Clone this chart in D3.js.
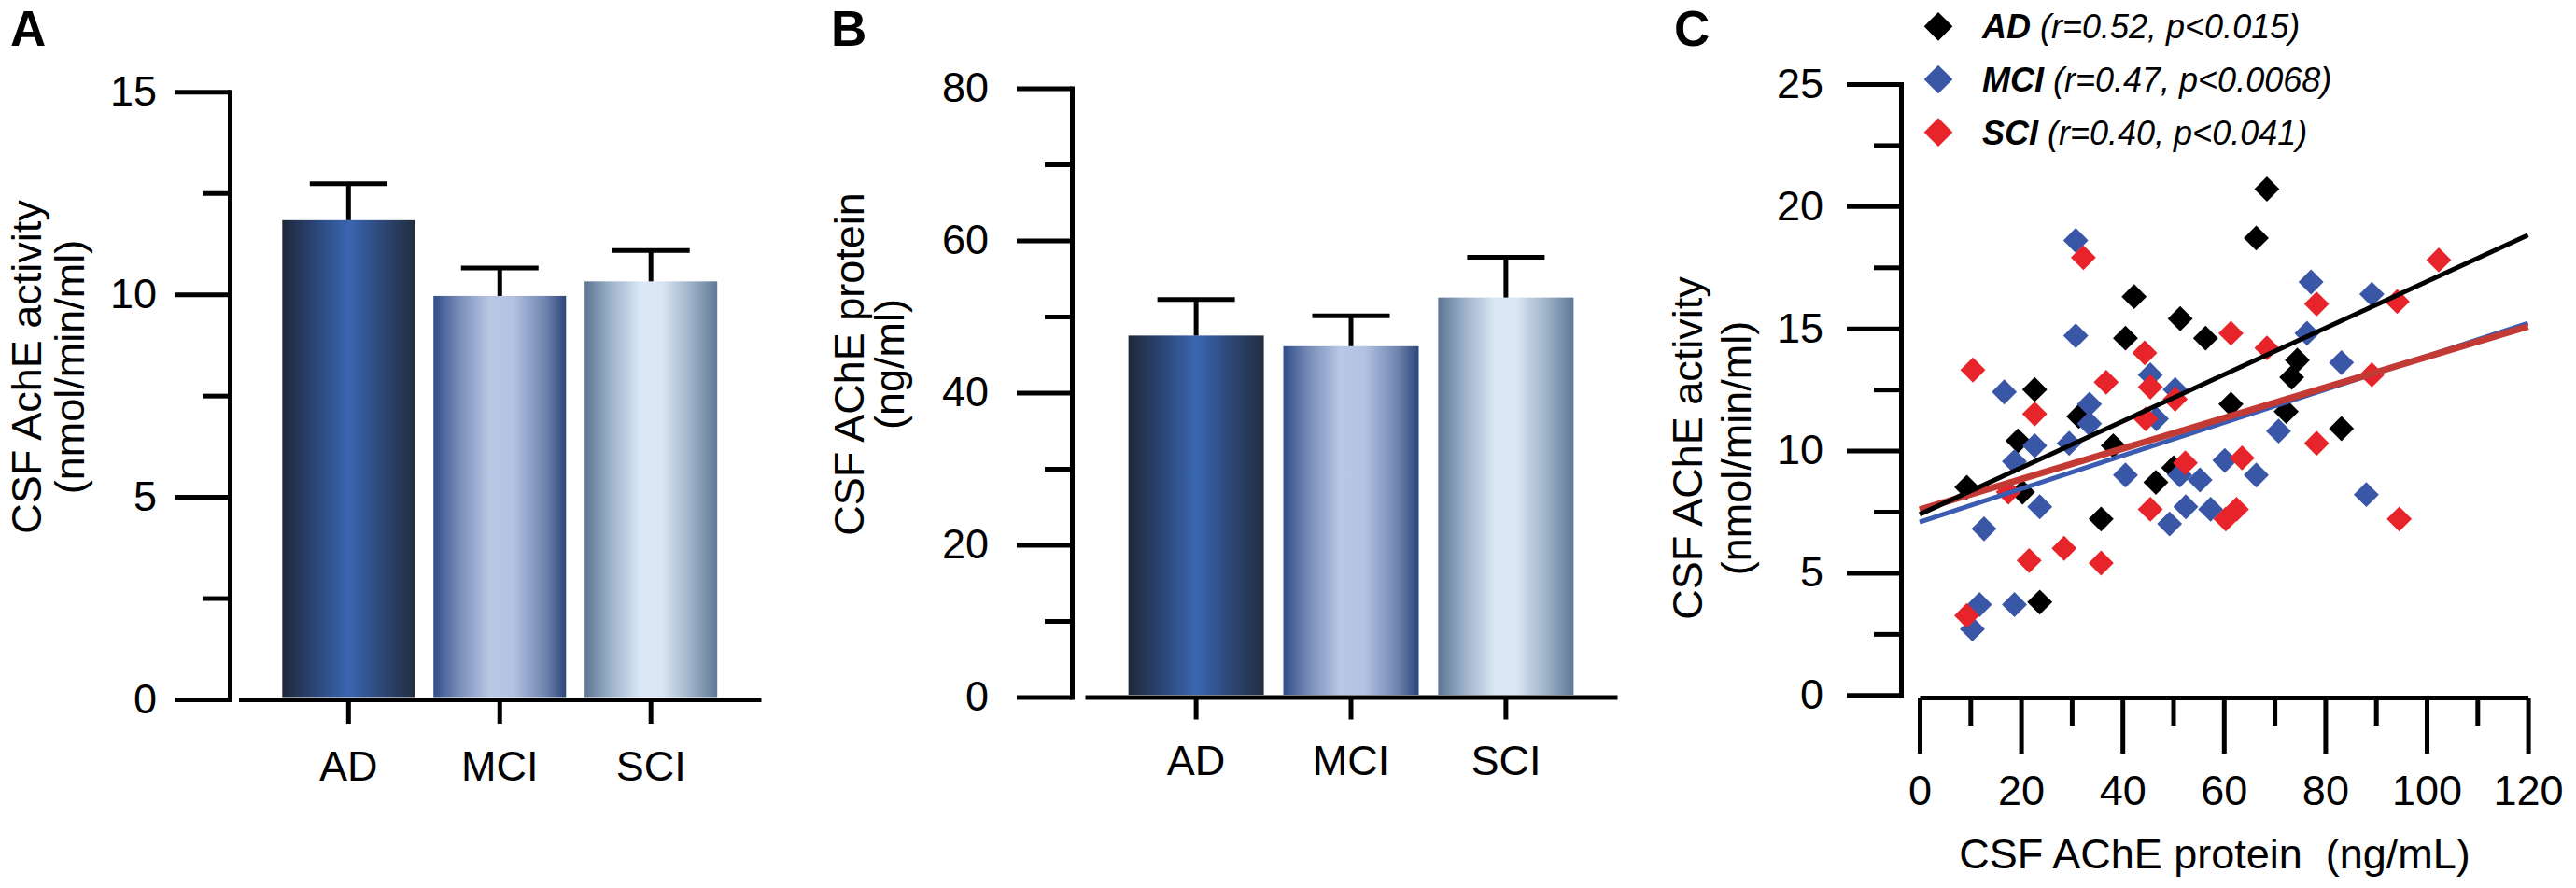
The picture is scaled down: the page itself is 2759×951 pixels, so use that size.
<!DOCTYPE html>
<html><head><meta charset="utf-8">
<script src="https://cdn.jsdelivr.net/npm/d3@7"></script>
<style>
body{margin:0;background:#fff;}
svg{display:block;font-family:"Liberation Sans",Arial,Helvetica,sans-serif;}
</style></head><body>
<svg id="chart" width="2759" height="951"></svg>
<script>
// ---------- data ----------
const categories = ["AD", "MCI", "SCI"];
const activityMean = [11.83, 9.96, 10.32];
const activitySEM = [0.90, 0.69, 0.76];
const proteinMean = [47.5, 46.1, 52.5];
const proteinSEM = [4.74, 4.0, 5.3];

const activityTicks = [0, 5, 10, 15];
const activityMinor = [2.5, 7.5, 12.5];
const proteinTicks = [0, 20, 40, 60, 80];
const proteinMinor = [10, 30, 50, 70];
const corrXTicks = [0, 20, 40, 60, 80, 100, 120];
const corrXMinor = [10, 30, 50, 70, 90, 110];
const corrYTicks = [0, 5, 10, 15, 20, 25];
const corrYMinor = [2.5, 7.5, 12.5, 17.5, 22.5];

const adProtein = [68.5, 66.4, 42.3, 51.4, 56.4, 40.6, 74.5, 73.4, 22.7, 61.4, 72.3, 31.4, 83.2, 19.4, 38.2, 50.1, 46.6, 9.3, 20.3, 35.8, 23.7];
const adActivity = [20.7, 18.7, 16.3, 15.4, 14.6, 14.6, 13.7, 13.0, 12.5, 11.9, 11.6, 11.4, 10.9, 10.4, 10.2, 9.3, 8.7, 8.5, 8.3, 7.2, 3.8];
const mciProtein = [30.8, 30.8, 45.5, 50.4, 16.7, 33.5, 33.5, 46.7, 22.7, 29.5, 18.7, 23.7, 12.7, 40.6, 51.3, 55.3, 52.5, 49.3, 57.4, 60.2, 11.8, 10.4, 18.7, 70.8, 66.4, 88.1, 77.2, 89.2, 76.4, 83.2];
const mciActivity = [18.6, 14.7, 13.1, 12.5, 12.4, 11.9, 11.1, 11.3, 10.2, 10.3, 9.55, 7.7, 6.8, 9.0, 9.0, 8.8, 7.7, 7.0, 7.6, 9.6, 3.7, 2.7, 3.7, 10.8, 9.0, 8.2, 16.9, 16.4, 14.8, 13.6];
const sciProtein = [32.3, 61.4, 44.4, 10.5, 45.5, 50.4, 36.8, 22.7, 44.6, 17.5, 52.4, 45.5, 21.6, 28.5, 35.8, 9.3, 78.3, 63.6, 94.6, 62.5, 60.4, 102.4, 78.3, 94.2, 68.5, 89.2];
const sciActivity = [17.9, 14.8, 14.0, 13.3, 12.6, 12.1, 12.8, 11.5, 11.3, 8.3, 9.5, 7.6, 5.5, 6.0, 5.4, 3.25, 10.3, 9.7, 7.2, 7.6, 7.2, 17.8, 16.0, 16.1, 14.2, 13.1];

const groupNames = ["AD", "MCI", "SCI"];
const groupStats = ["(r=0.52, p<0.015)", "(r=0.47, p<0.0068)", "(r=0.40, p<0.041)"];
const fitProtein = [0, 120];
const fitAD = [7.39, 18.82];
const fitMCI = [7.08, 15.21];
const fitSCI = [7.58, 15.08];

// ---------- styles ----------
const FONT = 45;
const AX = 5;
const pointColors = ["#000000", "#3a56a6", "#e8242b"];
const lineColors = ["#000000", "#3b5cb0", "#c23a33"];
const lineWidths = [5, 5, 7];

const svg = d3.select("#chart");
svg.append("rect").attr("width", 2759).attr("height", 951).attr("fill", "#fff");
const defs = svg.append("defs");

const gradSpecs = {
  gAD: [[0, "#1f2839"], [0.22, "#2a4270"], [0.5, "#3a66b1"], [0.78, "#2c4470"], [1, "#222d40"]],
  gMCI: [[0, "#2f4e88"], [0.18, "#7489b5"], [0.42, "#b8c8e5"], [0.6, "#b2c2e1"], [0.84, "#7085b0"], [1, "#2c4678"]],
  gSCI: [[0, "#5d7594"], [0.18, "#98aec6"], [0.42, "#dbe7f4"], [0.58, "#dae6f3"], [0.82, "#98adc4"], [1, "#5f7897"]]
};
Object.entries(gradSpecs).forEach(([id, stops]) => {
  const g = defs.append("linearGradient").attr("id", id).attr("x1", 0).attr("x2", 1).attr("y1", 0).attr("y2", 0);
  stops.forEach(s => g.append("stop").attr("offset", s[0]).attr("stop-color", s[1]));
});
const gradIds = ["gAD", "gMCI", "gSCI"];

function styleAxis(g, fontSize) {
  g.attr("font-family", null).attr("font-size", null);
  g.selectAll("path.domain").attr("stroke", "#000").attr("stroke-width", AX).attr("stroke-linecap", "square");
  g.selectAll(".tick line").attr("stroke", "#000").attr("stroke-width", AX);
  g.selectAll(".tick text").attr("fill", "#000").attr("font-size", fontSize + "px");
}

function panelLetter(txt, x, y) {
  svg.append("text").attr("x", x).attr("y", y).attr("font-size", "53px").attr("font-weight", "bold").attr("fill", "#000").text(txt);
}

function rotTitle(lines, xs, cy) {
  lines.forEach((t, i) => {
    svg.append("text").attr("transform", `translate(${xs[i]},${cy}) rotate(-90)`)
      .attr("text-anchor", "middle").attr("font-size", FONT + "px").attr("fill", "#000").text(t);
  });
}

function barPanel(c) {
  const y = d3.scaleLinear().domain(c.yDomain).range(c.yRange);
  const x = d3.scaleBand().domain(categories).range(c.xRange).paddingInner(c.pi).paddingOuter(c.po);
  const g = svg.append("g");
  g.selectAll("rect.bar").data(categories).join("rect").attr("class", "bar")
    .attr("x", d => x(d)).attr("width", x.bandwidth())
    .attr("y", (d, i) => y(c.means[i]))
    .attr("height", (d, i) => y(0) - y(c.means[i]) - AX / 2)
    .attr("fill", (d, i) => `url(#${gradIds[i]})`);
  const eb = g.selectAll("g.err").data(categories).join("g").attr("class", "err");
  eb.append("line").attr("x1", d => x(d) + x.bandwidth() / 2).attr("x2", d => x(d) + x.bandwidth() / 2)
    .attr("y1", (d, i) => y(c.means[i])).attr("y2", (d, i) => y(c.means[i] + c.sems[i]))
    .attr("stroke", "#000").attr("stroke-width", AX);
  eb.append("line").attr("x1", d => x(d) + x.bandwidth() / 2 - c.cap / 2).attr("x2", d => x(d) + x.bandwidth() / 2 + c.cap / 2)
    .attr("y1", (d, i) => y(c.means[i] + c.sems[i])).attr("y2", (d, i) => y(c.means[i] + c.sems[i]))
    .attr("stroke", "#000").attr("stroke-width", AX);
  const ya = svg.append("g").attr("transform", `translate(${c.axisX},0)`)
    .call(d3.axisLeft(y).tickValues(c.major).tickSize(59).tickSizeOuter(0).tickPadding(c.gap).tickFormat(d3.format("d")));
  styleAxis(ya, FONT);
  const ym = svg.append("g").attr("transform", `translate(${c.axisX},0)`)
    .call(d3.axisLeft(y).tickValues(c.minor).tickSize(29).tickSizeOuter(0).tickFormat(""));
  ym.select("path.domain").remove();
  styleAxis(ym, FONT);
  const xa = svg.append("g").attr("transform", `translate(0,${y(0)})`)
    .call(d3.axisBottom(x).tickSize(c.xTick).tickSizeOuter(0).tickPadding(c.xPad));
  styleAxis(xa, FONT);
  xa.select("path.domain").attr("stroke-linecap", "butt");
}

// ---------- Panel A ----------
panelLetter("A", 11, 49);
barPanel({
  means: activityMean, sems: activitySEM, yDomain: [0, 15], yRange: [749, 98.3],
  major: activityTicks, minor: activityMinor, axisX: 246, gap: 19,
  xRange: [255.5, 815], pi: 0.123, po: 0.289, cap: 83, xTick: 26, xPad: 29
});
rotTitle(["CSF AchE activity", "(nmol/min/ml)"], [44, 90], 393);

// ---------- Panel B ----------
panelLetter("B", 890, 49);
barPanel({
  means: proteinMean, sems: proteinSEM, yDomain: [0, 80], yRange: [746.5, 94.5],
  major: proteinTicks, minor: proteinMinor, axisX: 1148, gap: 30,
  xRange: [1162, 1732], pi: 0.126, po: 0.281, cap: 83, xTick: 24, xPad: 28
});
rotTitle(["CSF AChE protein", "(ng/ml)"], [925, 968], 390);

// ---------- Panel C ----------
panelLetter("C", 1793, 49);
const cx = d3.scaleLinear().domain([0, 120]).range([2056, 2707.6]);
const cy = d3.scaleLinear().domain([0, 25]).range([744.3, 90]);

const cya = svg.append("g").attr("transform", "translate(2036,0)")
  .call(d3.axisLeft(cy).tickValues(corrYTicks).tickSize(58).tickSizeOuter(0).tickPadding(25).tickFormat(d3.format("d")));
styleAxis(cya, FONT);
const cym = svg.append("g").attr("transform", "translate(2036,0)")
  .call(d3.axisLeft(cy).tickValues(corrYMinor).tickSize(29).tickSizeOuter(0).tickFormat(""));
cym.select("path.domain").remove();
styleAxis(cym, FONT);

const cxa = svg.append("g").attr("transform", "translate(0,747)")
  .call(d3.axisBottom(cx).tickValues(corrXTicks).tickSize(60).tickSizeOuter(0).tickPadding(23).tickFormat(d3.format("d")));
styleAxis(cxa, FONT);
cxa.select("path.domain").attr("stroke-linecap", "butt");
const cxm = svg.append("g").attr("transform", "translate(0,747)")
  .call(d3.axisBottom(cx).tickValues(corrXMinor).tickSize(30).tickSizeOuter(0).tickFormat(""));
cxm.select("path.domain").remove();
styleAxis(cxm, FONT);

svg.append("text").attr("x", 2372).attr("y", 930).attr("text-anchor", "middle")
  .attr("font-size", FONT + "px").attr("fill", "#000")
  .style("white-space", "pre").text("CSF AChE protein  (ng/mL)");
rotTitle(["CSF AChE activity", "(nmol/min/ml)"], [1823, 1875], 480);

// points
const groups = [
  { xs: adProtein, ys: adActivity },
  { xs: mciProtein, ys: mciActivity },
  { xs: sciProtein, ys: sciActivity }
];
const diamond = d3.symbol().type(d3.symbolSquare).size(360);
groups.forEach((grp, gi) => {
  svg.append("g").selectAll("path").data(grp.xs.map((v, i) => [v, grp.ys[i]])).join("path")
    .attr("d", diamond)
    .attr("transform", d => `translate(${cx(d[0])},${cy(d[1])}) rotate(45)`)
    .attr("fill", pointColors[gi]);
});

// regression lines
const fits = [fitAD, fitMCI, fitSCI];
const lineGen = d3.line().x(d => cx(d[0])).y(d => cy(d[1]));
[1, 2, 0].forEach(gi => {
  svg.append("path").attr("d", lineGen(fitProtein.map((p, i) => [p, fits[gi][i]])))
    .attr("fill", "none").attr("stroke", lineColors[gi]).attr("stroke-width", lineWidths[gi]);
});

// legend
const legDiamond = d3.symbol().type(d3.symbolSquare).size(470);
groupNames.forEach((nm, i) => {
  const yy = 28.3 + 56.7 * i;
  svg.append("path").attr("d", legDiamond).attr("transform", `translate(2076,${yy}) rotate(45)`).attr("fill", pointColors[i]);
  const t = svg.append("text").attr("x", 2123).attr("y", yy + 13).attr("font-size", "36px").attr("fill", "#000").attr("font-style", "italic");
  t.append("tspan").attr("font-weight", "bold").text(nm);
  t.append("tspan").text(" " + groupStats[i]);
});
</script>
</body></html>
